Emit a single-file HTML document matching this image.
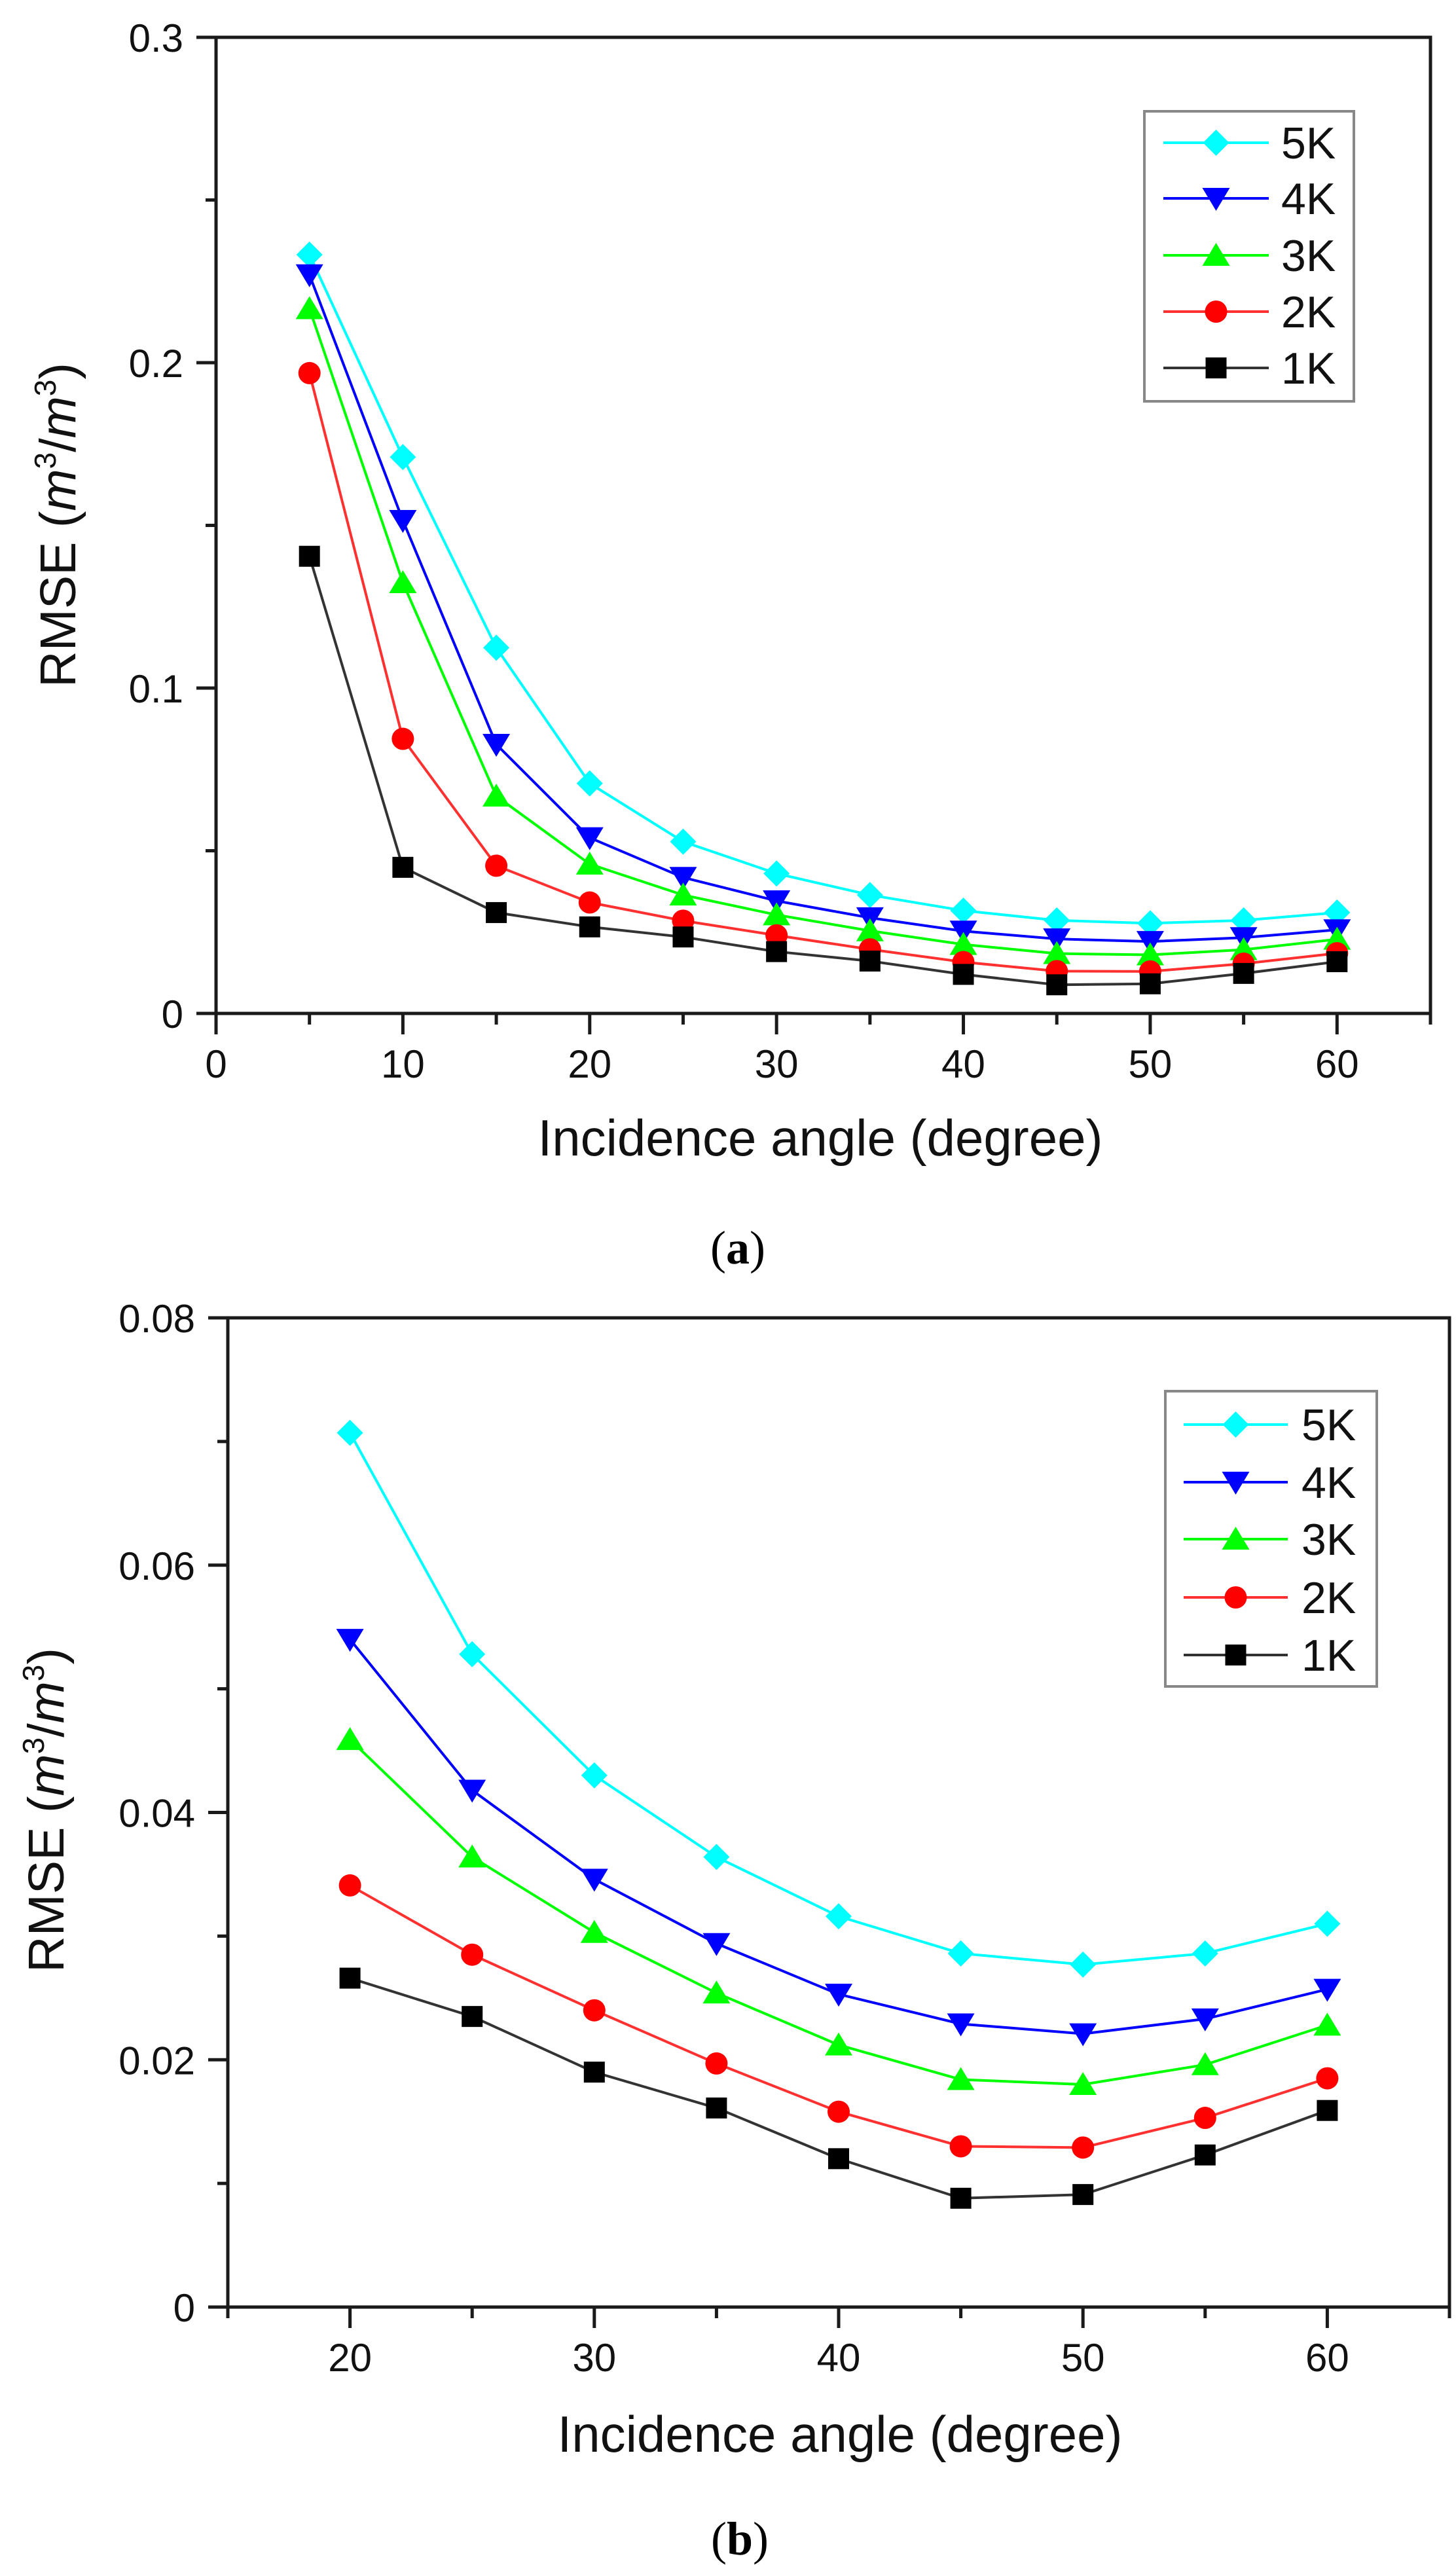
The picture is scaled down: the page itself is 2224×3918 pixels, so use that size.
<!DOCTYPE html>
<html><head><meta charset="utf-8"><style>
html,body{margin:0;padding:0;background:#fff;}
svg{display:block;font-family:"Liberation Sans",Arial,sans-serif;}
</style></head><body>
<svg id="fig" width="2224" height="3918" viewBox="0 0 2224 3918" xmlns="http://www.w3.org/2000/svg">
<g id="chartA"></g>
<g id="chartB"></g>
<text x="1127" y="1930" text-anchor="middle" font-family="Liberation Serif,serif" font-size="72">(<tspan font-weight="bold">a</tspan>)</text>
<text x="1130" y="3902" text-anchor="middle" font-family="Liberation Serif,serif" font-size="72">(<tspan font-weight="bold">b</tspan>)</text>
</svg>
<script>
const seriesNames = ["5K","4K","3K","2K","1K"];
const seriesColors = ["#00ffff","#0000ff","#00ff00","#ff0000","#000000"];
const lineColors = ["#00ffff","#0000ff","#00ff00","#ff3030","#333333"];
const markerShapes = ["diamond","tri-down","tri-up","circle","square"];
const anglesA = [5,10,15,20,25,30,35,40,45,50,55,60];
const rmse5KA = [0.2332,0.171,0.1124,0.0707,0.0528,0.043,0.0364,0.0316,0.0286,0.0277,0.0286,0.0310];
const rmse4KA = [0.227,0.1515,0.0827,0.054,0.0418,0.0346,0.0294,0.0253,0.0229,0.0221,0.0233,0.0257];
const rmse3KA = [0.2166,0.1324,0.0668,0.0459,0.0364,0.0303,0.0254,0.0212,0.0184,0.018,0.0196,0.0228];
const rmse2KA = [0.1968,0.0844,0.0454,0.0341,0.0285,0.024,0.0197,0.0158,0.013,0.0129,0.0153,0.0185];
const rmse1KA = [0.1405,0.0449,0.031,0.0266,0.0235,0.019,0.0161,0.012,0.0088,0.0091,0.0123,0.0159];
const anglesB = [20,25,30,35,40,45,50,55,60];
const rmse5KB = [0.0707,0.0528,0.043,0.0364,0.0316,0.0286,0.0277,0.0286,0.0310];
const rmse4KB = [0.054,0.0418,0.0346,0.0294,0.0253,0.0229,0.0221,0.0233,0.0257];
const rmse3KB = [0.0459,0.0364,0.0303,0.0254,0.0212,0.0184,0.018,0.0196,0.0228];
const rmse2KB = [0.0341,0.0285,0.024,0.0197,0.0158,0.013,0.0129,0.0153,0.0185];
const rmse1KB = [0.0266,0.0235,0.019,0.0161,0.012,0.0088,0.0091,0.0123,0.0159];
const xTicksA = [0,10,20,30,40,50,60];
const yTicksA = [0,0.1,0.2,0.3];
const yTickLabelsA = ["0","0.1","0.2","0.3"];
const xTicksB = [20,30,40,50,60];
const yTicksB = [0,0.02,0.04,0.06,0.08];
const yTickLabelsB = ["0","0.02","0.04","0.06","0.08"];

const NS="http://www.w3.org/2000/svg";
function mk(parent,tag,attrs){const e=document.createElementNS(NS,tag);for(const k in attrs)e.setAttribute(k,attrs[k]);parent.appendChild(e);return e;}

function marker(g,shape,cx,cy,color){
  let e;
  if(shape==="diamond"){e=mk(g,"polygon",{points:`${cx},${cy-20} ${cx+20},${cy} ${cx},${cy+20} ${cx-20},${cy}`,fill:color});}
  else if(shape==="tri-down"){e=mk(g,"polygon",{points:`${cx-21},${cy-16} ${cx+21},${cy-16} ${cx},${cy+19}`,fill:color});}
  else if(shape==="tri-up"){e=mk(g,"polygon",{points:`${cx-21},${cy+16} ${cx+21},${cy+16} ${cx},${cy-19}`,fill:color});}
  else if(shape==="circle"){e=mk(g,"circle",{cx:cx,cy:cy,r:17,fill:color});}
  else {e=mk(g,"rect",{x:cx-16,y:cy-16,width:32,height:32,fill:color});}
  return e;
}

function drawChart(g,cfg){
  const X=v=>cfg.L+(v-cfg.xmin)/(cfg.xmax-cfg.xmin)*(cfg.R-cfg.L);
  const Y=v=>cfg.B-(v-cfg.ymin)/(cfg.ymax-cfg.ymin)*(cfg.B-cfg.T);
  cfg.series.forEach((vals,i)=>{
    const sg=mk(g,"g",{});
    
    
    const pts=vals.map((v,j)=>X(cfg.xs[j])+","+Y(v)).join(" ");
    const pl=mk(sg,"polyline",{points:pts,fill:"none",stroke:lineColors[i],"stroke-width":4});
    
    
    vals.forEach((v,j)=>{
      const m=marker(sg,markerShapes[i],X(cfg.xs[j]),Y(v),seriesColors[i]);
      
      
    });
  });
  const fr=mk(g,"rect",{x:cfg.L,y:cfg.T,width:cfg.R-cfg.L,height:cfg.B-cfg.T,fill:"none",stroke:"#1a1a1a","stroke-width":5});
  
  
  for(let v=cfg.xmin;v<=cfg.xmax+0.001;v+=cfg.xminor){
    const major=cfg.xTicks.includes(v);
    mk(g,"line",{x1:X(v),y1:cfg.B,x2:X(v),y2:cfg.B+(major?32:17),stroke:"#1a1a1a","stroke-width":5});
  }
  cfg.xTicks.forEach(v=>{
    const t=mk(g,"text",{x:X(v),y:cfg.B+98,"text-anchor":"middle","font-size":60,fill:"#111"});
    t.textContent=String(v);
    
    
  });
  for(let k=0;k*cfg.yminor<=cfg.ymax+1e-9;k++){
    const v=k*cfg.yminor;
    const major=cfg.yTicks.some(t=>Math.abs(t-v)<1e-9);
    mk(g,"line",{x1:cfg.L,y1:Y(v),x2:cfg.L-(major?30:16),y2:Y(v),stroke:"#1a1a1a","stroke-width":5});
  }
  cfg.yTicks.forEach((v,i)=>{
    const t=mk(g,"text",{x:cfg.L-50,y:Y(v)+22,"text-anchor":"end","font-size":60,fill:"#111"});
    t.textContent=cfg.yLabels[i];
    
    
  });
  const xt=mk(g,"text",{x:cfg.xtX,y:cfg.xtY,"text-anchor":"middle","font-size":78,fill:"#111"});
  xt.textContent="Incidence angle (degree)";
  
  
  const yt=mk(g,"text",{transform:`translate(${cfg.ytX},${cfg.ytY}) rotate(-90)`,"text-anchor":"middle","font-size":77,fill:"#111"});
  yt.innerHTML='RMSE (<tspan font-style="italic">m</tspan><tspan font-size="46" dy="-30">3</tspan><tspan dy="30">/</tspan><tspan font-style="italic">m</tspan><tspan font-size="46" dy="-30">3</tspan><tspan dy="30">)</tspan>';
  
  
  const lg=mk(g,"g",{});
  
  
  mk(lg,"rect",{x:cfg.lg.x,y:cfg.lg.y,width:cfg.lg.w,height:cfg.lg.h,fill:"#fff",stroke:"#888","stroke-width":4});
  seriesNames.forEach((n,i)=>{
    const ry=cfg.lg.rows[i];
    const e=mk(lg,"g",{});
    
    
    mk(e,"line",{x1:cfg.lg.l1,y1:ry,x2:cfg.lg.l2,y2:ry,stroke:lineColors[i],"stroke-width":4});
    marker(e,markerShapes[i],(cfg.lg.l1+cfg.lg.l2)/2,ry,seriesColors[i]);
    const t=mk(e,"text",{x:cfg.lg.tx,y:ry+24,"font-size":68,fill:"#111"});
    t.textContent=n;
  });
}

drawChart(document.getElementById("chartA"),{
  L:330,R:2185,T:57,B:1548,xmin:0,xmax:65,ymin:0,ymax:0.3,xminor:5,yminor:0.05,
  xs:anglesA,series:[rmse5KA,rmse4KA,rmse3KA,rmse2KA,rmse1KA],
  xTicks:xTicksA,yTicks:yTicksA,yLabels:yTickLabelsA,
  xtX:1253,xtY:1765,ytX:115,ytY:802,
  lg:{x:1748,y:170,w:320,h:443,l1:1777,l2:1938,tx:1957,rows:[218,303,390,476,562]}
});
drawChart(document.getElementById("chartB"),{
  L:348,R:2214,T:2013,B:3524,xmin:15,xmax:65,ymin:0,ymax:0.08,xminor:5,yminor:0.01,
  xs:anglesB,series:[rmse5KB,rmse4KB,rmse3KB,rmse2KB,rmse1KB],
  xTicks:xTicksB,yTicks:yTicksB,yLabels:yTickLabelsB,
  xtX:1283,xtY:3745,ytX:97,ytY:2765,
  lg:{x:1780,y:2125,w:323,h:451,l1:1808,l2:1967,tx:1988,rows:[2176,2264,2351,2440,2528]}
});
</script>
</body></html>
